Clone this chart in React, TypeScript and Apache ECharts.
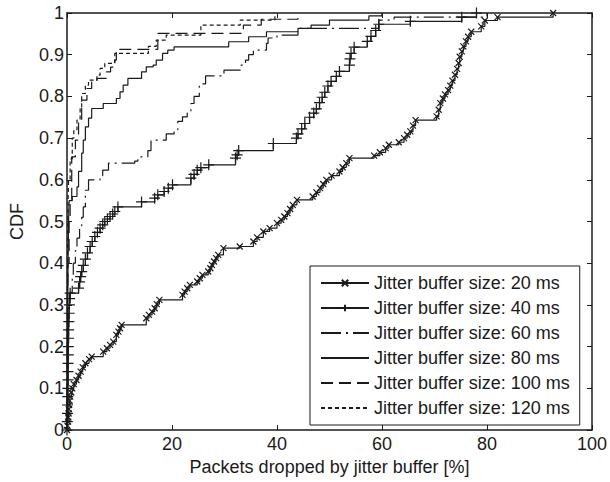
import React, { useEffect, useRef } from "react";
import * as echarts from "echarts";

const seriesNames = [
  "Jitter buffer size: 20 ms",
  "Jitter buffer size: 40 ms",
  "Jitter buffer size: 60 ms",
  "Jitter buffer size: 80 ms",
  "Jitter buffer size: 100 ms",
  "Jitter buffer size: 120 ms",
];

const xTicks = [0, 20, 40, 60, 80, 100];

const cdf20: number[][] = [
  [0, 0], [0.1, 0.01], [0.2, 0.02], [0.25, 0.03], [0.3, 0.04], [0.35, 0.05], [0.4, 0.06], [0.5, 0.07],
  [0.6, 0.08], [0.8, 0.09], [1.0, 0.1], [1.3, 0.11], [1.8, 0.12], [2.2, 0.13], [2.6, 0.14], [3.0, 0.15],
  [3.5, 0.16], [4.2, 0.17], [4.7, 0.176], [6.9, 0.188], [7.6, 0.196], [8.2, 0.204], [8.8, 0.212],
  [9.4, 0.228], [9.8, 0.236], [10.1, 0.244], [10.4, 0.252], [15.1, 0.268], [15.6, 0.276], [16.2, 0.284],
  [16.7, 0.292], [17.1, 0.302], [17.6, 0.312], [22, 0.324], [22.4, 0.332], [22.9, 0.34], [23.4, 0.348],
  [24.8, 0.356], [25.3, 0.364], [25.8, 0.372], [26.9, 0.38], [27.3, 0.388], [27.6, 0.396], [28, 0.404],
  [28.4, 0.412], [28.8, 0.42], [29.8, 0.436], [32.9, 0.44], [35.5, 0.452], [36.2, 0.462], [37.4, 0.476],
  [38.6, 0.484], [40, 0.496], [40.8, 0.504], [41.4, 0.512], [42, 0.52], [42.5, 0.53], [43, 0.54],
  [43.8, 0.552], [46.8, 0.56], [47.5, 0.57], [48.2, 0.58], [48.8, 0.59], [49.4, 0.6], [50.4, 0.61],
  [51.9, 0.62], [52.5, 0.63], [53.2, 0.64], [53.8, 0.652], [58.5, 0.658], [59.6, 0.666], [60.7, 0.676],
  [61.3, 0.684], [63.2, 0.69], [64.2, 0.7], [64.8, 0.708], [65.4, 0.716], [65.9, 0.73], [66.4, 0.743],
  [70.4, 0.752], [70.8, 0.768], [71.1, 0.784], [71.6, 0.795], [72, 0.805], [72.6, 0.815], [73, 0.826],
  [73.4, 0.838], [73.9, 0.852], [74.3, 0.866], [74.6, 0.88], [74.8, 0.895], [75.2, 0.908], [75.5, 0.92],
  [76, 0.932], [76.4, 0.943], [77, 0.955], [78.9, 0.968], [79.6, 0.982], [82, 0.99], [92.6, 1.0],
];

const cdf40: number[][] = [
  [0, 0], [0.05, 0.02], [0.1, 0.04], [0.1, 0.06], [0.15, 0.08], [0.15, 0.1], [0.2, 0.12], [0.2, 0.14],
  [0.2, 0.16], [0.25, 0.18], [0.25, 0.2], [0.3, 0.22], [0.3, 0.24], [0.35, 0.26], [0.4, 0.28], [0.45, 0.3],
  [0.5, 0.315], [0.6, 0.328], [2.2, 0.34], [2.4, 0.355], [2.6, 0.368], [2.8, 0.38], [3.1, 0.395],
  [3.5, 0.41], [3.9, 0.425], [4.4, 0.44], [4.8, 0.452], [5.3, 0.464], [5.8, 0.474], [6.3, 0.484],
  [6.8, 0.492], [7.2, 0.5], [7.7, 0.506], [8.2, 0.512], [8.7, 0.518], [9.1, 0.524], [9.7, 0.535],
  [14.2, 0.547], [16.7, 0.556], [17.3, 0.564], [18.5, 0.572], [19.3, 0.58], [20.1, 0.588], [23.6, 0.604],
  [24.2, 0.613], [24.8, 0.623], [25.5, 0.629], [27, 0.636], [32.1, 0.652], [32.4, 0.66], [32.7, 0.67],
  [39.3, 0.687], [43.7, 0.7], [44, 0.71], [44.7, 0.722], [45.3, 0.735], [46.2, 0.75], [47, 0.76],
  [47.5, 0.77], [48.1, 0.785], [48.6, 0.798], [49.1, 0.81], [49.7, 0.825], [50.3, 0.836], [51.3, 0.848],
  [51.9, 0.86], [53.8, 0.875], [53.9, 0.89], [54.1, 0.903], [54.7, 0.918], [57.2, 0.932], [57.9, 0.944],
  [58.8, 0.958], [59.4, 0.973], [65.4, 0.98], [75.2, 0.99], [78, 1.0],
];

const cdf60: number[][] = [
  [0, 0], [0.1, 0.1], [0.2, 0.2], [0.3, 0.3], [0.6, 0.33], [1.0, 0.37], [1.2, 0.4], [1.6, 0.43],
  [1.9, 0.46], [2.4, 0.49], [2.8, 0.51], [3.1, 0.535], [3.5, 0.575], [4.1, 0.6], [6.3, 0.61],
  [6.8, 0.623], [7.9, 0.64], [12.9, 0.645], [13.5, 0.655], [15.4, 0.67], [16, 0.695], [18.9, 0.71],
  [20.4, 0.72], [21.1, 0.74], [22, 0.751], [22.9, 0.76], [23.6, 0.783], [24.2, 0.8], [25.2, 0.83],
  [26.4, 0.849], [29.9, 0.863], [33, 0.875], [34, 0.887], [34.6, 0.9], [35.5, 0.911], [38, 0.927],
  [38.3, 0.94], [40, 0.947], [44, 0.963], [59.4, 0.983], [62.3, 0.99], [80, 1.0],
];

const cdf80: number[][] = [
  [0, 0], [0.05, 0.1], [0.1, 0.2], [0.15, 0.3], [0.2, 0.4], [0.3, 0.5], [0.4, 0.55], [1.0, 0.56],
  [1.9, 0.583], [2.2, 0.62], [2.8, 0.664], [3.1, 0.695], [3.5, 0.727], [4.1, 0.748], [4.7, 0.771],
  [6.9, 0.783], [9.4, 0.795], [10.1, 0.811], [10.7, 0.827], [11.6, 0.843], [14.2, 0.859], [15.1, 0.871],
  [16.4, 0.875], [17, 0.887], [18.2, 0.903], [19.2, 0.911], [20.4, 0.919], [30.8, 0.931], [34.6, 0.943],
  [38, 0.955], [44, 0.963], [46.5, 0.971], [50, 0.983], [57.5, 0.993], [60, 1.0],
];

const cdf100: number[][] = [
  [0, 0], [0.05, 0.15], [0.1, 0.3], [0.2, 0.4], [0.4, 0.5], [0.6, 0.55], [0.9, 0.655], [1.6, 0.695],
  [2.2, 0.743], [2.8, 0.791], [3.8, 0.819], [4.7, 0.835], [5.7, 0.843], [7.5, 0.859], [8.3, 0.87],
  [9.1, 0.887], [9.4, 0.913], [17.3, 0.951], [33.6, 0.971], [37, 0.985], [44, 1.0],
];

const cdf120: number[][] = [
  [0, 0], [0.05, 0.2], [0.1, 0.4], [0.2, 0.55], [0.3, 0.6], [0.6, 0.65], [1.0, 0.7], [1.3, 0.72],
  [1.9, 0.743], [2.5, 0.775], [2.8, 0.807], [3.5, 0.827], [4.1, 0.839], [5.7, 0.851], [6.3, 0.867],
  [7.2, 0.879], [9.1, 0.903], [15.5, 0.92], [17, 0.935], [18.9, 0.947], [25.5, 0.971], [33, 0.983],
  [39.6, 1.0],
];

const seriesData = [cdf20, cdf40, cdf60, cdf80, cdf100, cdf120];

const INK = "#1a1a1a";
const FONT = "'Liberation Sans', Arial, Helvetica, sans-serif";

const lineTypes: any[] = ["solid", "solid", [20, 5, 2, 5], "solid", [12, 6], [4, 3]];
const symbols = [
  "path://M0,0L10,10M10,0L0,10",
  "path://M5,0L5,10M0,5L10,5",
  "circle", "circle", "circle", "circle",
];
const symbolSizes = [6, 11, 0, 0, 0, 0];
const hasMarker = [true, true, false, false, false, false];

export default function App() {
  const ref = useRef<HTMLDivElement>(null);
  useEffect(() => {
    if (!ref.current) return;
    const chart = echarts.init(ref.current, null, { renderer: "svg" });
    const axisCommon = {
      type: "value" as const,
      axisLine: { show: true, onZero: false, lineStyle: { color: INK, width: 1.5 } },
      axisTick: { show: true, inside: true, length: 5, lineStyle: { color: INK, width: 1 } },
      splitLine: { show: false },
    };
    chart.setOption({
      animation: false,
      backgroundColor: "#ffffff",
      textStyle: { fontFamily: FONT },
      grid: { left: 65, right: 15, top: 13, bottom: 52, containLabel: false },
      legend: {
        orient: "vertical",
        left: 310,
        top: 266,
        padding: [8, 10, 8, 10],
        itemWidth: 48,
        itemHeight: 8,
        itemGap: 7,
        backgroundColor: "#ffffff",
        borderColor: INK,
        borderWidth: 1,
        borderRadius: 0,
        textStyle: { fontFamily: FONT, fontSize: 18, color: INK, padding: [0, 0, 0, 0] },
        data: seriesNames,
      },
      xAxis: [
        {
          ...axisCommon,
          position: "bottom",
          min: 0,
          max: 100,
          interval: 20,
          name: "Packets dropped by jitter buffer [%]",
          nameLocation: "middle",
          nameGap: 27,
          nameTextStyle: { fontFamily: FONT, fontSize: 18, color: INK },
          axisLabel: { show: true, fontFamily: FONT, fontSize: 18, color: INK, margin: 5 },
        },
        {
          ...axisCommon,
          position: "top",
          min: 0,
          max: 100,
          interval: 20,
          axisLabel: { show: false },
        },
      ],
      yAxis: [
        {
          ...axisCommon,
          position: "left",
          min: 0,
          max: 1,
          interval: 0.1,
          name: "CDF",
          nameLocation: "middle",
          nameGap: 41,
          nameTextStyle: { fontFamily: FONT, fontSize: 18, color: INK },
          axisLabel: {
            show: true, fontFamily: FONT, fontSize: 18, color: INK, margin: 3,
            formatter: (v: number) => String(Math.round(v * 10) / 10),
          },
        },
        {
          ...axisCommon,
          position: "right",
          min: 0,
          max: 1,
          interval: 0.1,
          axisLabel: { show: false },
        },
      ],
      series: seriesNames.map((name, i) => ({
        name,
        type: "line",
        xAxisIndex: 0,
        yAxisIndex: 0,
        step: "end",
        data: seriesData[i],
        symbol: symbols[i],
        symbolSize: symbolSizes[i],
        showSymbol: hasMarker[i],
        lineStyle: { color: INK, width: 1.2, type: lineTypes[i] },
        itemStyle: hasMarker[i]
          ? { color: INK, borderColor: INK, borderWidth: 1.2 }
          : { color: "rgba(0,0,0,0)", borderColor: "rgba(0,0,0,0)", borderWidth: 0 },
        emphasis: { disabled: true },
        z: 10 - i,
      })),
    });
    return () => chart.dispose();
  }, []);
  return (
    <div
      ref={ref}
      style={{ position: "absolute", left: 0, top: 0, width: 610, height: 482 }}
    />
  );
}
